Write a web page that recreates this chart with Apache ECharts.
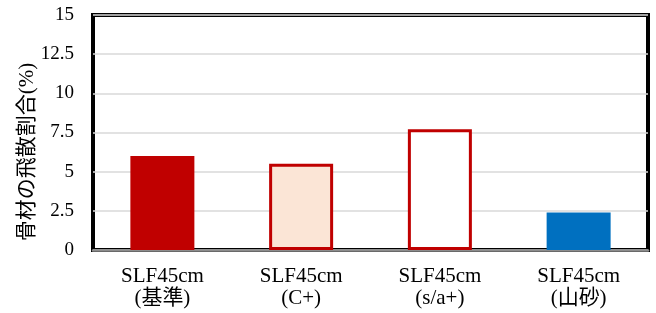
<!DOCTYPE html>
<html>
<head>
<meta charset="utf-8">
<script src="https://cdn.jsdelivr.net/npm/echarts@6/dist/echarts.min.js"></script>
<style>
  html, body { margin: 0; padding: 0; background: #fff; }
  #main { width: 656px; height: 313px; }
</style>
</head>
<body>
<div id="main"></div>
<script>
// カテゴリと値
var categories = ['SLF45cm\n(基準)', 'SLF45cm\n(C+)', 'SLF45cm\n(s/a+)', 'SLF45cm\n(山砂)'];
var values = [6.0, 5.5, 7.7, 2.4];
var yTicks = [0, 2.5, 5, 7.5, 10, 12.5, 15];
var yTitle = '骨材の飛散割合(%)';

var chart = echarts.init(document.getElementById('main'));

// 棒ごとの見た目
var barStyles = [
   { color: '#C00000' },
   { color: '#FBE5D6', borderColor: '#C00000', borderWidth: 3 },
   { color: '#FFFFFF', borderColor: '#C00000', borderWidth: 3 },
   { color: '#0070C0' }
];

var option = {
   animation: false,
   grid: {
      left: 93,
      right: 8,
      top: 15,
      bottom: 63,
      show: true,
      borderColor: '#000',
      borderWidth: 4,
      backgroundColor: 'transparent'
   },
   // 縦軸タイトル(Excel風に少し下寄せ)
   graphic: [{
      type: 'text',
      x: 27,
      y: 152,
      rotation: Math.PI / 2,
      style: {
         text: yTitle,
         fill: '#000',
         font: '21px "Liberation Serif", "Noto Sans CJK JP"',
         textAlign: 'center',
         textVerticalAlign: 'middle'
      }
   }],
   xAxis: {
      type: 'category',
      data: categories,
      axisTick: { show: false },
      axisLine: { lineStyle: { color: '#8c8c8c', width: 2.5 } },
      axisLabel: {
         color: '#000',
         fontFamily: 'Liberation Serif, Noto Sans CJK JP',
         fontSize: 21,
         lineHeight: 22,
         margin: 15
      }
   },
   yAxis: {
      type: 'value',
      min: yTicks[0],
      max: yTicks[yTicks.length - 1],
      interval: 2.5,
      axisLine: { show: false },
      axisTick: { show: false },
      splitLine: { lineStyle: { color: '#D9D9D9', width: 1.5 } },
      axisLabel: {
         color: '#000',
         fontFamily: 'Liberation Serif',
         fontSize: 19,
         margin: 19
      }
   },
   series: [{
      type: 'bar',
      barWidth: 64,
      data: values.map(function (v, i) {
         return { value: v, itemStyle: barStyles[i] };
      })
   }]
};

chart.setOption(option);
</script>
</body>
</html>
